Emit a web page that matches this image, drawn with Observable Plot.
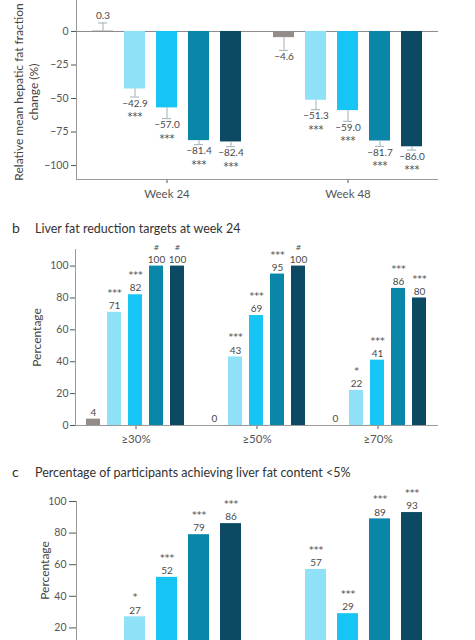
<!DOCTYPE html>
<html><head><meta charset="utf-8">
<script src="https://cdn.jsdelivr.net/npm/d3@7"></script>
<script src="https://cdn.jsdelivr.net/npm/@observablehq/plot@0.6"></script>
<style>
body{margin:0;background:#fff;font-family:Lato,sans-serif;}
#wrap{position:relative;width:475px;height:640px;overflow:hidden;background:#fff;}
.panel{position:absolute;left:0;}
.title{position:absolute;left:12px;font-size:12.5px;color:#333;white-space:nowrap;}
.title .lt{display:inline-block;width:23px;font-size:14px;}
</style></head><body>
<div id="wrap">
  <div id="a" class="panel" style="top:0px"></div>
  <div class="title" style="top:219px"><span class="lt">b</span>Liver fat reduction targets at week 24</div>
  <div id="b" class="panel" style="top:240px"></div>
  <div class="title" style="top:463px"><span class="lt">c</span>Percentage of participants achieving liver fat content &lt;5%</div>
  <div id="c" class="panel" style="top:482px"></div>
</div>
<script>
// ---- data ----
const arms = ["Placebo", "Arm 1", "Arm 2", "Arm 3", "Arm 4"];
const armColors = ["#948c88", "#8fe1f8", "#16c5f3", "#0a86a8", "#0b4a62"];

// panel a
const weeks = ["Week 24", "Week 48"];
const changeWk24 = [0.3, -42.9, -57.0, -81.4, -82.4];
const changeWk48 = [-4.6, -51.3, -59.0, -81.7, -86.0];
const errWk24 = [6, 6, 8, 3, 3.5];
const errWk48 = [9.5, 7, 8, 4, 2.5];
const sigAWk24 = ["", "***", "***", "***", "***"];
const sigAWk48 = ["", "***", "***", "***", "***"];
const yLabelA = "Relative mean hepatic fat fraction\nchange (%)";

// panel b
const targets = ["≥30%", "≥50%", "≥70%"];
const pct30 = [4, 71, 82, 100, 100];
const pct50 = [0, 43, 69, 95, 100];
const pct70 = [0, 22, 41, 86, 80];
const sig30 = ["", "***", "***", "#", "#"];
const sig50 = ["", "***", "***", "***", "#"];
const sig70 = ["", "*", "***", "***", "***"];

// panel c
const below5Wk24 = [0, 27, 52, 79, 86];
const below5Wk48 = [3, 57, 29, 89, 93];
const sigCWk24 = ["", "*", "***", "***", "***"];
const sigCWk48 = ["", "***", "***", "***", "***"];
const yLabelBC = "Percentage";

// ---- tables ----
function rows(groupNames, valueLists, sigLists, errLists) {
  const out = [];
  groupNames.forEach((g, i) => arms.forEach((a, j) => {
    const v = valueLists[i][j];
    const e = errLists ? errLists[i][j] : 0;
    out.push({group: g, arm: a, value: v, end: v >= 0 ? v + e : v - e, sig: sigLists[i][j]});
  }));
  return out;
}
const rowsA = rows(weeks, [changeWk24, changeWk48], [sigAWk24, sigAWk48], [errWk24, errWk48]);
const rowsB = rows(targets, [pct30, pct50, pct70], [sig30, sig50, sig70]);
const rowsC = rows(weeks, [below5Wk24, below5Wk48], [sigCWk24, sigCWk48]);

const font = "Lato, 'Open Sans', sans-serif";
const starFont = "'DejaVu Sans', sans-serif";
const axisColor = "#9a9a9a";
const textColor = "#4a4a4a";
const labelColor = "#444";
const fmt1 = v => (v < 0 ? "\u2212" : "") + Math.abs(v).toFixed(1);
const isStars = d => d.sig.startsWith("*");
const isHash = d => d.sig === "#";

// ---- panel a ----
const yMinA = -110.4;
const plotA = Plot.plot({
  width: 475, height: 205,
  marginLeft: 76, marginRight: 37, marginTop: 0, marginBottom: 26,
  style: {fontFamily: font, fontSize: "10px", color: "#555", background: "transparent"},
  fx: {domain: weeks, paddingInner: 0, paddingOuter: 0, label: null},
  x: {domain: arms, paddingInner: 0.33, paddingOuter: 0.41, axis: null},
  y: {domain: [yMinA, 23.1]},
  color: {domain: arms, range: armColors},
  marks: [
    Plot.axisY({ticks: [0, -25, -50, -75, -100], tickSize: 5, tickPadding: 3, fontSize: 10.5, label: null}),
    Plot.axisFx({anchor: "bottom", tickSize: 4, tickPadding: 6, label: null, fontSize: 11.5}),
    Plot.text([yLabelA], {frameAnchor: "left", facetAnchor: "left", rotate: -90, textAnchor: "middle",
      lineAnchor: "middle", dx: -50.5, dy: 2, lineHeight: 1.25, fontSize: 12, fill: labelColor, text: d => d}),
    Plot.frame({anchor: "left", facetAnchor: "left", stroke: axisColor}),
    Plot.ruleY([yMinA], {stroke: axisColor}),
    Plot.ruleY([0], {stroke: "#8a8a8a"}),
    Plot.barY(rowsA, {fx: "group", x: "arm", y: "value", fill: "arm"}),
    Plot.ruleX(rowsA, {fx: "group", x: "arm", y1: "value", y2: "end", stroke: "#9fb0b8"}),
    Plot.tickY(rowsA, {fx: "group", x: "arm", y: "end", stroke: "#9fb0b8", insetLeft: 6, insetRight: 6}),
    Plot.text(rowsA.filter(d => d.value >= 0), {fx: "group", x: "arm", y: "end", text: d => fmt1(d.value),
      lineAnchor: "middle", dy: -7.5, fill: textColor, fontSize: 10}),
    Plot.text(rowsA.filter(d => d.value < 0), {fx: "group", x: "arm", y: "end", text: d => fmt1(d.value),
      lineAnchor: "middle", dy: 6.5, fill: textColor, fontSize: 10}),
    Plot.text(rowsA.filter(isStars), {fx: "group", x: "arm", y: "end", text: "sig",
      lineAnchor: "top", dy: 16, fill: textColor, fontSize: 10, fontFamily: starFont})
  ]
});
document.getElementById("a").append(plotA);

// ---- panel b ----
const plotB = Plot.plot({
  width: 475, height: 215,
  marginLeft: 75, marginRight: 37, marginTop: 9, marginBottom: 30,
  style: {fontFamily: font, fontSize: "10px", color: "#555", background: "transparent"},
  fx: {domain: targets, paddingInner: 0, paddingOuter: 0, label: null},
  x: {domain: arms, paddingInner: 0.33, paddingOuter: 0.45, axis: null},
  y: {domain: [0, 110.4]},
  color: {domain: arms, range: armColors},
  marks: [
    Plot.axisY({ticks: [0, 20, 40, 60, 80, 100], tickSize: 5, tickPadding: 2, fontSize: 10.5, label: null}),
    Plot.axisFx({anchor: "bottom", tickSize: 4, tickPadding: 5, label: null, fontSize: 11.5}),
    Plot.text([yLabelBC], {frameAnchor: "left", facetAnchor: "left", rotate: -90, textAnchor: "middle",
      lineAnchor: "middle", dx: -38, fontSize: 12, fill: labelColor, text: d => d}),
    Plot.frame({anchor: "left", facetAnchor: "left", stroke: axisColor}),
    Plot.ruleY([0], {stroke: axisColor}),
    Plot.barY(rowsB, {fx: "group", x: "arm", y: "value", fill: "arm"}),
    Plot.text(rowsB, {fx: "group", x: "arm", y: "value", text: d => String(d.value),
      lineAnchor: "middle", dy: -6.5, fill: textColor, fontSize: 10}),
    Plot.text(rowsB.filter(isStars), {fx: "group", x: "arm", y: "value", text: "sig",
      lineAnchor: "middle", dy: -19.5, fill: textColor, fontSize: 9.5, fontFamily: starFont}),
    Plot.text(rowsB.filter(isHash), {fx: "group", x: "arm", y: "value", text: "sig",
      lineAnchor: "middle", dy: -18, fill: textColor, fontSize: 7, fontFamily: starFont})
  ]
});
document.getElementById("b").append(plotB);

// ---- panel c ----
const plotC = Plot.plot({
  width: 475, height: 200,
  marginLeft: 76, marginRight: 37, marginTop: 19, marginBottom: 23,
  style: {fontFamily: font, fontSize: "10px", color: "#555", background: "transparent"},
  fx: {domain: weeks, paddingInner: 0, paddingOuter: 0, label: null, axis: null},
  x: {domain: arms, paddingInner: 0.33, paddingOuter: 0.41, axis: null},
  y: {domain: [0, 100]},
  color: {domain: arms, range: armColors},
  marks: [
    Plot.axisY({ticks: [20, 40, 60, 80, 100], tickSize: 7, tickPadding: 3, fontSize: 10.5, label: null}),
    Plot.text([yLabelBC], {frameAnchor: "left", facetAnchor: "left", rotate: -90, textAnchor: "middle",
      lineAnchor: "middle", dx: -31, dy: -10, fontSize: 12, fill: labelColor, text: d => d}),
    Plot.frame({anchor: "left", facetAnchor: "left", stroke: axisColor}),
    Plot.barY(rowsC, {fx: "group", x: "arm", y: "value", fill: "arm"}),
    Plot.text(rowsC.filter(d => d.value >= 12), {fx: "group", x: "arm", y: "value", text: d => String(d.value),
      lineAnchor: "middle", dy: -6.5, fill: textColor, fontSize: 10}),
    Plot.text(rowsC.filter(isStars), {fx: "group", x: "arm", y: "value", text: "sig",
      lineAnchor: "middle", dy: -19.5, fill: textColor, fontSize: 9.5, fontFamily: starFont})
  ]
});
document.getElementById("c").append(plotC);
</script>
</body></html>
